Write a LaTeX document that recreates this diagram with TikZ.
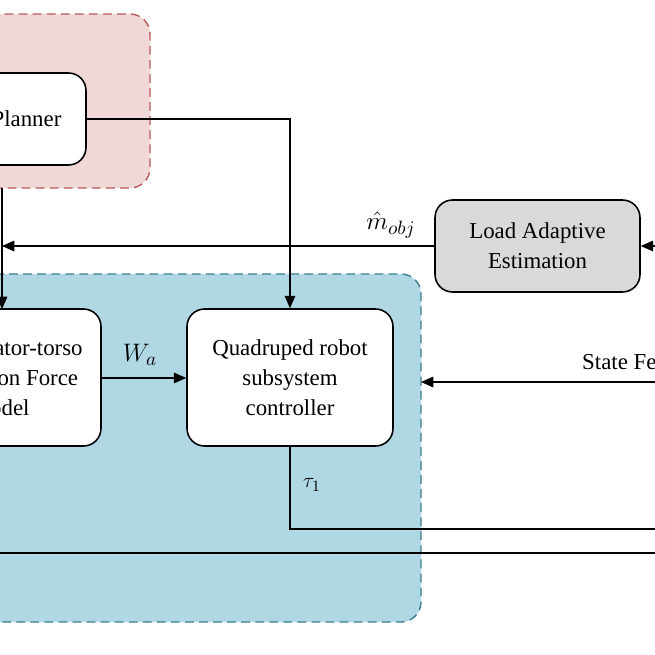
\documentclass[tikz,border=0pt]{standalone}
\usepackage{fontspec}
\setmainfont{Liberation Serif}
\usetikzlibrary{arrows.meta}
\begin{document}
\begin{tikzpicture}[x=0.02cm,y=-0.02cm,
  box/.style={draw,line width=0.9pt,rounded corners=0.35cm,fill=white,align=center,font=\fontsize{13}{17}\selectfont,inner sep=0},
  arr/.style={-{Triangle[length=7pt,width=6pt]},line width=0.7pt},
  ln/.style={line width=0.7pt},
  grp/.style={dash pattern=on 5pt off 3pt,line width=0.8pt,rounded corners=0.4cm}]
\useasboundingbox (0,0) rectangle (655,655);
\clip (0,0) rectangle (655,655);
\definecolor{grpred}{RGB}{240,216,216}
\definecolor{grpredb}{RGB}{185,90,90}
\definecolor{grpblue}{RGB}{176,216,228}
\definecolor{grpblueb}{RGB}{60,125,145}
\definecolor{gbox}{RGB}{217,217,217}
% groups
\draw[grp,grpredb,fill=grpred] (-100,14) rectangle (150,188);
\draw[grp,grpblueb,fill=grpblue] (-100,274) rectangle (421,622);
% nodes
\node[box,minimum width=4cm,minimum height=1.84cm] (plan) at (-14,119) {\hspace*{1.62cm}Planner};
\node[box,minimum width=5cm,minimum height=2.74cm] (force) at (-24,377.5) {\hspace*{0.95cm}Manipulator-torso\\\hspace*{0.95cm}Interaction Force\\\hspace*{0.95cm}Model};
\node[box,minimum width=4.12cm,minimum height=2.74cm] (quad) at (290,377.5) {Quadruped robot\\subsystem\\controller};
\node[box,fill=gbox,minimum width=4.1cm,minimum height=1.84cm] (load) at (537.5,246) {Load Adaptive\\Estimation};
\coordinate (lt) at (2,246);
\coordinate (sf) at (660,382);
\coordinate (sfe) at (421,382);
\coordinate (tr) at (660,529);
\coordinate (li) at (660,246);
% connectors
\draw[arr] (plan.east) -- (290,119) -- (quad.north);
\draw[arr] (load.west) -- (lt);
\draw[arr] (li) -- (load.east);
\draw[arr] (2,188) -- (2,309);
\draw[arr] (force.east |- 0,378) -- (quad.west |- 0,378);
\draw[arr] (sf) -- (sfe);
\draw[ln] (quad.south) -- (290,529) -- (tr);
\draw[ln] (-10,553) -- (660,553);
% labels
\node at (140,355) {\fontsize{15}{17}\selectfont$W_a$};
\node at (391,225) {\fontsize{15}{17}\selectfont$\hat m_{obj}$};
\node at (312,485) {\fontsize{13}{15}\selectfont$\tau_1$};
\node[anchor=west,font=\fontsize{13}{15}\selectfont] at (576,362) {State Feedback};
\end{tikzpicture}
\end{document}
